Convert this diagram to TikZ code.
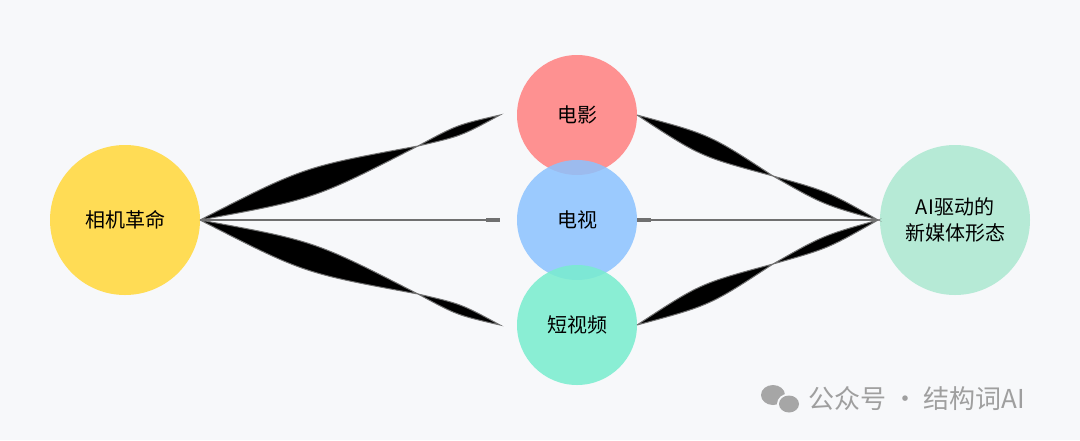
\documentclass[tikz,border=0pt]{standalone}
\usepackage{fontspec}
\setmainfont{Noto Sans CJK SC}
\usetikzlibrary{calc}
\definecolor{bg}{HTML}{F7F8FA}
\definecolor{cyel}{HTML}{FFDC55}
\definecolor{cred}{HTML}{FF8C8C}
\definecolor{cblu}{HTML}{8CC3FF}
\definecolor{cgrn}{HTML}{78EDCE}
\definecolor{cmnt}{HTML}{B6EAD6}
\definecolor{edge}{HTML}{707070}
\tikzset{
 circ/.style={circle,inner sep=0pt,font=\fontsize{20}{26}\selectfont,text=black,align=center},
 rib/.style={fill=black,draw=edge,line width=1pt},
}
\newcommand\lens[3]{%
 \path ($(#1)!.5!(#2)$) coordinate (m);
 \filldraw[rib] (#1) .. controls ($(m)!#3!90:(#2)$) .. (#2) .. controls ($(m)!#3!-90:(#2)$) .. (#1);
}
\begin{document}
\begin{tikzpicture}[x=1pt,y=-1pt]
\fill[bg] (0,0) rectangle (1080,440);
\useasboundingbox (0,0) rectangle (1080,440);
\node[circ,fill=cyel,minimum size=150pt] (L) at (125,220) {相机革命};
\node[circ,fill=cmnt,minimum size=150pt] (R) at (955,220) {AI驱动的\\新媒体形态};
\node[circ,fill=cred,minimum size=120pt,fill opacity=.95,text opacity=1] (A) at (577,115) {};
\node[circ,fill=cblu,minimum size=120pt,fill opacity=.85,text opacity=1] (B) at (577,220) {};
\node[circ,fill=cgrn,minimum size=120pt,fill opacity=.85,text opacity=1] (C) at (577,325) {};
\node[circ] at (A) {电影};
\node[circ] at (B) {电视};
\node[circ] at (C) {短视频};
\coordinate (Le) at (200,220);
\coordinate (Re) at (878,220);
\coordinate (Aw) at (500,115);
\coordinate (Bw) at (500,220);
\coordinate (Cw) at (500,325);
\coordinate (Ae) at (637,115);
\coordinate (Be) at (637,220);
\coordinate (Ce) at (637,325);
\coordinate (w1) at (418,146);
\coordinate (w2) at (418,294);
\coordinate (w3) at (773,176);
\coordinate (w4) at (773,264);
\lens{Le}{w1}{17pt}
\lens{w1}{Aw}{6pt}
\lens{Le}{w2}{17pt}
\lens{w2}{Cw}{6pt}
\lens{Ae}{w3}{12pt}
\lens{w3}{Re}{7pt}
\lens{Ce}{w4}{12pt}
\lens{w4}{Re}{7pt}
\draw[edge,line width=2pt] (Le) -- (Bw);
\draw[edge,line width=2pt] (Be) -- (Re);
\draw[edge,line width=3.5pt] (486,220) -- (Bw);
\draw[edge,line width=3.5pt] (Be) -- (651,220);
% watermark
\fill[gray!70] (773,395) ellipse (12pt and 10pt);
\fill[bg] (789,404) ellipse (12pt and 10.5pt);
\fill[gray!70] (789,404) ellipse (10pt and 8.5pt);
\node[anchor=west,text=gray!75,font=\fontsize{26}{30}\selectfont,inner sep=0pt] (wm) at (808,399) {公众号 · 结构词AI};
\end{tikzpicture}
\end{document}
